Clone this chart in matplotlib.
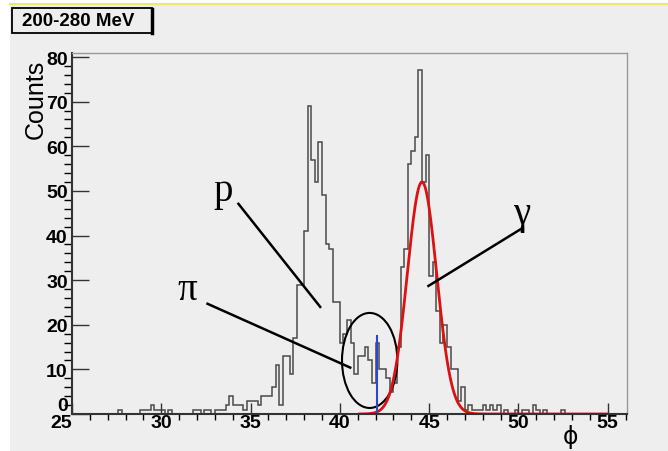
import numpy as np
import matplotlib
matplotlib.use('Agg')
import matplotlib.pyplot as plt
import matplotlib.transforms as mtransforms
from matplotlib.patches import Rectangle, Ellipse
from matplotlib.ticker import MultipleLocator

W, H = 668, 452

# histogram: 0.2 wide bins from 25 to 56, counts per bin (5 bins per row = 1 unit)
bin_start, bin_stop, bin_width = 25.0, 56.0, 0.2
counts = [
    0, 0, 0, 0, 0,      # 25
    0, 0, 0, 0, 0,      # 26
    0, 0, 0, 1, 0,      # 27
    0, 0, 0, 0, 1,      # 28
    1, 1, 2, 1, 1,      # 29
    1, 0, 1, 0, 0,      # 30
    0, 0, 0, 0, 1,      # 31
    1, 0, 1, 1, 0,      # 32
    1, 1, 1, 2, 4,      # 33
    2, 2, 2, 1, 3,      # 34
    3, 3, 2, 4, 4,      # 35
    4, 6, 11, 2, 13,    # 36
    13, 9, 17, 29, 29,  # 37
    41, 69, 57, 52, 61, # 38
    49, 38, 37, 25, 25, # 39
    16, 18, 21, 16, 9,  # 40
    13, 13, 15, 12, 7,  # 41
    16, 10, 10, 8, 5,   # 42
    7, 15, 33, 37, 56,  # 43
    59, 62, 77, 52, 58, # 44
    31, 34, 23, 16, 20, # 45
    15, 10, 10, 3, 6,   # 46
    1, 2, 1, 1, 1,      # 47
    2, 1, 2, 1, 2,      # 48
    0, 1, 0, 0, 1,      # 49
    0, 1, 1, 0, 2,      # 50
    1, 0, 1, 0, 0,      # 51
    0, 0, 1, 0, 0,      # 52
    0, 0, 0, 0, 0,      # 53
    0, 0, 0, 0, 0,      # 54
    0, 0, 0, 0, 0,      # 55
]

# gaussian fit on the gamma peak
fit_amp, fit_mean, fit_sigma = 52.0, 44.6, 0.82
fit_lo, fit_hi = 41.1, 55.0

# marker line at the pi position
pi_x, pi_ymin, pi_ymax = 42.07, 0.5, 17.5

x_ticks = [25, 30, 35, 40, 45, 50, 55]
y_ticks = [0, 10, 20, 30, 40, 50, 60, 70, 80]


def fx(px):
    return px / W


def fy(py):
    return 1 - py / H


fig = plt.figure(figsize=(W / 100, H / 100), dpi=100, facecolor='white')

# grey canvas with the thin yellow top line
fig.add_artist(Rectangle((fx(10), 0), 1 - fx(10), fy(6), transform=fig.transFigure,
                         facecolor='#eeeeee', edgecolor='none', zorder=0))
fig.add_artist(plt.Line2D([fx(10), 1], [fy(5), fy(5)], transform=fig.transFigure,
                          color='#eaea70', lw=1.5))

ax = fig.add_axes([fx(72), fy(415), fx(627) - fx(72), fy(54) - fy(415)])
ax.set_facecolor('#eeeeee')

edges = np.linspace(bin_start, bin_stop, len(counts) + 1)
ax.stairs(counts, edges, color='#4a4a4a', lw=1.1, baseline=0)

xf = np.linspace(fit_lo, fit_hi, 600)
ax.plot(xf, fit_amp * np.exp(-0.5 * ((xf - fit_mean) / fit_sigma) ** 2), color='#dd1111', lw=2)

ax.plot([pi_x, pi_x], [pi_ymin, pi_ymax], color='#3344cc', lw=1.5)

# annotations
serif = 'Liberation Serif'
ax.text(33.45, 50.0, 'p', fontsize=28, family=serif, ha='center', va='center')
ax.text(31.45, 28.0, 'π', fontsize=28, family=serif, ha='center', va='center')
ax.text(50.2, 45.0, 'γ', fontsize=28, family=serif, ha='center', va='center')
ax.plot([34.32, 38.9], [47.1, 24.0], color='black', lw=1.8)
ax.plot([32.59, 40.58], [24.7, 10.4], color='black', lw=1.8)
ax.plot([50.16, 44.96], [41.5, 28.7], color='black', lw=1.8)
ax.add_patch(Ellipse((41.67, 12.0), 3.1, 21.3, fill=False, edgecolor='black', lw=1.5))

ax.set_xlim(25, 56.08)
ax.set_ylim(0, 80.9)

ax.set_xticks(x_ticks)
ax.set_yticks(y_ticks)
ax.xaxis.set_minor_locator(MultipleLocator(1))
ax.yaxis.set_minor_locator(MultipleLocator(2))
ax.tick_params(direction='in', color='#333333', labelsize=14)
ax.tick_params(axis='x', which='major', length=8, width=1, pad=0)
ax.tick_params(axis='x', which='minor', length=4.5, width=1)
ax.tick_params(axis='y', which='major', length=12, width=1, pad=3)
ax.tick_params(axis='y', which='minor', length=6, width=1)
for lab in ax.get_xticklabels() + ax.get_yticklabels():
    lab.set_fontweight('bold')
    lab.set_family('Liberation Sans')
ax.get_xticklabels()[0].set_horizontalalignment('right')
zero_lab = ax.get_yticklabels()[0]
zero_lab.set_transform(zero_lab.get_transform() +
                       mtransforms.ScaledTranslation(0, 10 / 100, fig.dpi_scale_trans))

for side in ['left', 'bottom']:
    ax.spines[side].set_color('#333333')
    ax.spines[side].set_linewidth(1.5)
for side in ['top', 'right']:
    ax.spines[side].set_color('#999999')
    ax.spines[side].set_linewidth(1)

fig.text(fx(36), fy(99), 'Counts', rotation=90, fontsize=18, family='Liberation Sans',
         ha='center', va='center')
fig.text(fx(570), fy(437), 'ϕ', fontsize=17, ha='center', va='center')

# title box
fig.add_artist(Rectangle((fx(12), fy(34)), fx(152) - fx(12), fy(9) - fy(34),
                         transform=fig.transFigure, facecolor='#eeeeee',
                         edgecolor='black', lw=1.3))
fig.add_artist(plt.Line2D([fx(152), fx(152)], [fy(34), fy(10)], transform=fig.transFigure,
                          color='black', lw=2.5))
fig.text(fx(22), fy(22), '200-280 MeV', fontsize=13.5, fontweight='bold',
         family='Liberation Sans', ha='left', va='center')

fig.savefig('out.png', dpi=100, facecolor=fig.get_facecolor())
